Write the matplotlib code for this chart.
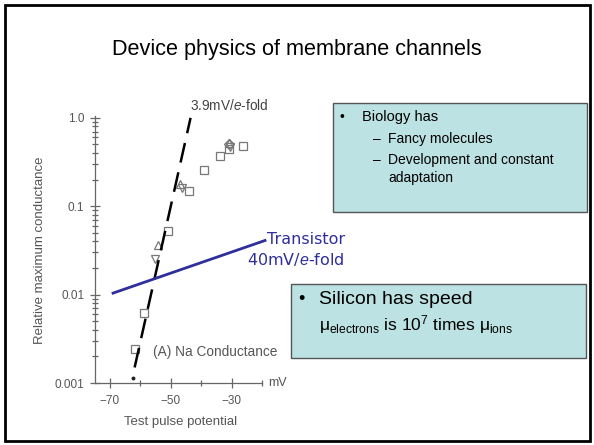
import matplotlib
matplotlib.use("Agg")
import matplotlib.pyplot as plt
from matplotlib.patches import Rectangle
from matplotlib.ticker import FixedLocator, LogLocator, NullFormatter

plt.rcParams['font.family'] = ['Liberation Sans', 'DejaVu Sans']
plt.rcParams['mathtext.fontset'] = 'custom'
plt.rcParams['mathtext.rm'] = 'Liberation Sans'
plt.rcParams['mathtext.it'] = 'Liberation Sans:italic'

W, H = 594, 445

# data (test potential in mV, relative conductance)
square_v = [-26.2, -33.8, -39.0, -43.9, -50.8, -58.8, -61.8, -30.8]
square_g = [0.48, 0.37, 0.26, 0.15, 0.052, 0.0062, 0.0024, 0.44]
tri_up_v = [-31.0, -47.0, -54.1]
tri_up_g = [0.52, 0.18, 0.036]
tri_down_v = [-30.6, -46.4, -55.2]
tri_down_g = [0.47, 0.16, 0.025]
diamond_v = [-31.0]
diamond_g = [0.50]
dot_v = [-62.3]
dot_g = [0.00115]

fit_v = [-61.9, -43.5]
fit_g = [0.0015, 1.0]

trans_v = [-69.0, -19.0]
trans_g = [0.0104, 0.041]

ytick_vals = [0.001, 0.01, 0.1, 1.0]
ytick_labels = ['0.001', '0.01', '0.1', '1.0']
xtick_major = [-70, -50, -30]
xtick_minor = [-60, -40, -20]


def fx(px):
    return px / W


def fy(py):
    return 1 - py / H


fig = plt.figure(figsize=(W / 100, H / 100), dpi=100)

# slide frame
fig.patches.append(Rectangle((fx(5), fy(441)), fx(585), (436) / H, transform=fig.transFigure,
                             fill=False, edgecolor='black', linewidth=2))

fig.text(0.5, fy(50), 'Device physics of membrane channels', ha='center', va='center',
         fontsize=15.6, color='black')

# plot area
ax = fig.add_axes([fx(94.8), fy(383), (262 - 94.8) / W, (383 - 116) / H])
ax.set_xlim(-75, -20)
ax.set_yscale('log')
ax.set_ylim(0.001, 1.05)
ax.patch.set_alpha(0)
for s in ['top', 'right']:
    ax.spines[s].set_visible(False)
gray = '#666666'
for s in ['left', 'bottom']:
    ax.spines[s].set_color(gray)
    ax.spines[s].set_linewidth(0.9)

ax.set_yticks(ytick_vals)
ax.set_yticklabels(ytick_labels)
ax.yaxis.set_minor_locator(LogLocator(base=10, subs=range(2, 10)))
ax.yaxis.set_minor_formatter(NullFormatter())
ax.xaxis.set_major_locator(FixedLocator(xtick_major))
ax.xaxis.set_minor_locator(FixedLocator(xtick_minor))
ax.set_xticklabels(['\u221270', '\u221250', '\u221230'])
ax.tick_params(which='major', direction='inout', length=7, width=0.9, color=gray,
               labelsize=8.5, labelcolor='#555555')
ax.tick_params(which='minor', direction='inout', length=5, width=0.9, color=gray)
ax.tick_params(axis='y', which='major', pad=4)
ax.tick_params(axis='x', which='major', pad=5)

mk = dict(linestyle='none', markerfacecolor='none', markeredgecolor='#777777',
          markeredgewidth=0.9, clip_on=False)
ax.plot(square_v, square_g, marker='s', markersize=5.5, **mk)
ax.plot(tri_up_v, tri_up_g, marker='^', markersize=6, **mk)
ax.plot(tri_down_v, tri_down_g, marker='v', markersize=6, **mk)
ax.plot(diamond_v, diamond_g, marker='D', markersize=5, **mk)
ax.plot(dot_v, dot_g, marker='o', markersize=1.8, color='#222222', linestyle='none', clip_on=False)

ax.plot(fit_v, fit_g, color='black', linewidth=1.8, dashes=(8, 4), clip_on=False)
ax.plot(trans_v, trans_g, color='#2f2f9c', linewidth=2, clip_on=False, zorder=5)

fig.text(fx(190), fy(106), '3.9mV/$e$-fold', ha='left', va='center', fontsize=9.8,
         color='#444444')
fig.text(fx(153), fy(352), '(A) Na Conductance', ha='left', va='center', fontsize=9.8,
         color='#555555')
fig.text(fx(268), fy(383), 'mV', ha='left', va='center', fontsize=9, color='#555555')
fig.text(fx(181), fy(422), 'Test pulse potential', ha='center', va='center', fontsize=9.5,
         color='#555555')
fig.text(fx(40), fy(250), 'Relative maximum conductance', ha='center', va='center',
         rotation=90, fontsize=9.5, color='#555555')

blue = '#2f2f9c'
fig.text(fx(267), fy(240), 'Transistor', ha='left', va='center', fontsize=11.5,
         color=blue, family='DejaVu Sans')
fig.text(fx(345), fy(259), '40mV/$e$-fold', ha='right', va='center', fontsize=11.5,
         color=blue, family='DejaVu Sans')

# text boxes
box_fill = '#bce2e3'
fig.patches.append(Rectangle((fx(333), fy(212)), (587 - 333) / W, (212 - 103) / H,
                             transform=fig.transFigure, facecolor=box_fill,
                             edgecolor='#555555', linewidth=1))
fig.text(fx(340), fy(117), '\u2022', ha='left', va='center', fontsize=10)
fig.text(fx(362), fy(117), 'Biology has', ha='left', va='center', fontsize=10.5)
fig.text(fx(373), fy(139), '\u2013', ha='left', va='center', fontsize=10)
fig.text(fx(388), fy(139), 'Fancy molecules', ha='left', va='center', fontsize=10)
fig.text(fx(373), fy(160), '\u2013', ha='left', va='center', fontsize=10)
fig.text(fx(388), fy(160), 'Development and constant', ha='left', va='center', fontsize=10)
fig.text(fx(388), fy(178), 'adaptation', ha='left', va='center', fontsize=10)

fig.patches.append(Rectangle((fx(291), fy(358)), (586 - 291) / W, (358 - 284) / H,
                             transform=fig.transFigure, facecolor=box_fill,
                             edgecolor='#555555', linewidth=1))
fig.text(fx(298), fy(300), '\u2022', ha='left', va='center', fontsize=13)
fig.text(fx(319), fy(300), 'Silicon has speed', ha='left', va='center', fontsize=14)
fig.text(fx(319), fy(325), '\u03bc$_{\\mathrm{electrons}}$ is 10$^{7}$ times \u03bc$_{\\mathrm{ions}}$',
         ha='left', va='center', fontsize=12.5)

fig.savefig('out.png', dpi=100)
